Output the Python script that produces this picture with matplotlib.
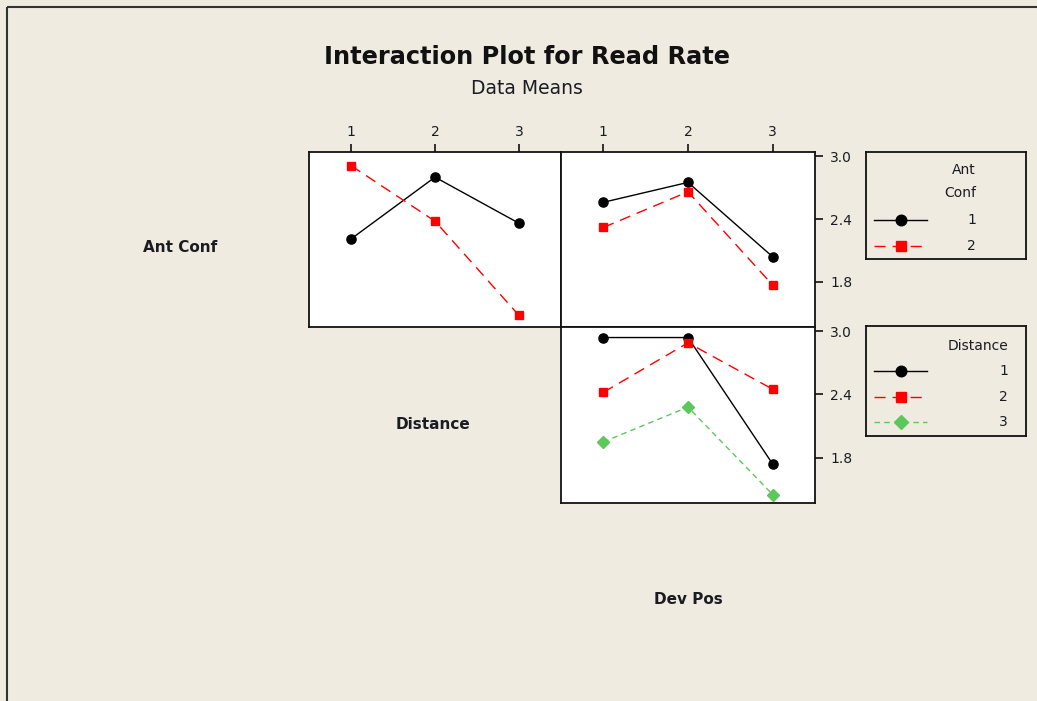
import matplotlib
matplotlib.use("Agg")
import matplotlib.pyplot as plt
from matplotlib.lines import Line2D

W, H = 1037, 701
BG = "#EFEBE1"
INK = "#1b1b22"

# Factor levels
levels = [1, 2, 3]
level_labels = ["1", "2", "3"]
ant_conf_labels = ["1", "2"]
distance_labels = ["1", "2", "3"]
y_ticks = [1.8, 2.4, 3.0]
y_limits = (1.37, 3.04)

# Mean Read Rate, Ant Conf (lines) across Distance (x)
antconf1_by_distance = [2.21, 2.80, 2.36]
antconf2_by_distance = [2.91, 2.38, 1.48]

# Mean Read Rate, Ant Conf (lines) across Dev Pos (x)
antconf1_by_devpos = [2.56, 2.75, 2.04]
antconf2_by_devpos = [2.32, 2.66, 1.77]

# Mean Read Rate, Distance (lines) across Dev Pos (x)
distance1_by_devpos = [2.94, 2.94, 1.74]
distance2_by_devpos = [2.42, 2.89, 2.45]
distance3_by_devpos = [1.95, 2.28, 1.45]

styles = [
    dict(color="black", linestyle="-", marker="o", markersize=6.6),
    dict(color="#FF0000", linestyle=(0, (8, 5)), marker="s", markersize=6.4),
    dict(color="#5CC85C", linestyle=(0, (4, 3)), marker="D", markersize=6.0),
]

fig = plt.figure(figsize=(W / 100, H / 100), dpi=100, facecolor=BG)


def px_axes(x0, y0, x1, y1):
    return fig.add_axes([x0 / W, 1 - y1 / H, (x1 - x0) / W, (y1 - y0) / H])


def style_panel(ax, top_ticks, right_ticks):
    ax.set_facecolor("white")
    ax.set_xlim(0.5, 3.5)
    ax.set_ylim(*y_limits)
    for s in ax.spines.values():
        s.set_linewidth(1.3)
        s.set_color("#111111")
    ax.tick_params(axis="both", direction="out", length=6, width=1.2,
                   labelsize=10, labelcolor=INK, color="#111111", pad=3)
    if top_ticks:
        ax.set_xticks(levels)
        ax.set_xticklabels(level_labels)
        ax.tick_params(axis="x", top=True, bottom=False, labeltop=True, labelbottom=False)
    else:
        ax.set_xticks([])
    if right_ticks:
        ax.set_yticks(y_ticks)
        ax.set_yticklabels([f"{v:.1f}" for v in y_ticks])
        ax.tick_params(axis="y", right=True, left=False, labelright=True, labelleft=False, pad=5)
    else:
        ax.set_yticks([])


def draw_series(ax, series):
    for vals, st in zip(series, styles):
        ax.plot(levels, vals, linewidth=1.0, clip_on=False, zorder=3, **st)


# Panels of the interaction matrix
ax1 = px_axes(309, 152, 561, 327)
style_panel(ax1, top_ticks=True, right_ticks=False)
draw_series(ax1, [antconf1_by_distance, antconf2_by_distance])

ax2 = px_axes(561, 152, 815, 327)
style_panel(ax2, top_ticks=True, right_ticks=True)
draw_series(ax2, [antconf1_by_devpos, antconf2_by_devpos])

ax3 = px_axes(561, 327, 815, 503)
style_panel(ax3, top_ticks=False, right_ticks=True)
draw_series(ax3, [distance1_by_devpos, distance2_by_devpos, distance3_by_devpos])


def draw_key(box, title_lines, title_ys, labels, row_ys, text_right):
    x0, y0, x1, y1 = box
    ax = px_axes(x0, y0, x1, y1)
    ax.set_xlim(0, x1 - x0)
    ax.set_ylim(y1 - y0, 0)
    ax.set_xticks([])
    ax.set_yticks([])
    ax.set_facecolor(BG)
    for s in ax.spines.values():
        s.set_linewidth(1.3)
        s.set_color("#111111")
    for t, ty in zip(title_lines, title_ys):
        ax.text(text_right, ty, t, ha="right", va="center", fontsize=10, color=INK)
    for lab, ry, st in zip(labels, row_ys, styles):
        line_style = {k: v for k, v in st.items() if k not in ("marker", "markersize")}
        ax.add_line(Line2D([8, 61], [ry, ry], linewidth=1.0, **line_style))
        ax.add_line(Line2D([34.5], [ry], linestyle="none", color=st["color"],
                           marker=st["marker"], markersize=st["markersize"] + 1))
        ax.text(text_right, ry, lab, ha="right", va="center", fontsize=10, color=INK)


draw_key((866, 152, 1026, 259), ["Ant", "Conf"], [18, 41], ant_conf_labels, [68, 94], 110)
draw_key((866, 326, 1026, 436), ["Distance"], [20], distance_labels, [45, 71, 96], 142)

# Factor names along the diagonal
fig.text(180 / W, 1 - 247 / H, "Ant Conf", ha="center", va="center",
         fontsize=11, fontweight="bold", color=INK)
fig.text(433 / W, 1 - 424 / H, "Distance", ha="center", va="center",
         fontsize=11, fontweight="bold", color=INK)
fig.text(688 / W, 1 - 599 / H, "Dev Pos", ha="center", va="center",
         fontsize=11, fontweight="bold", color=INK)

# Titles
fig.text(527 / W, 1 - 57 / H, "Interaction Plot for Read Rate", ha="center", va="center",
         fontsize=17.3, fontweight="bold", color="#111111")
fig.text(527 / W, 1 - 88 / H, "Data Means", ha="center", va="center",
         fontsize=13.5, color=INK)

# Window frame lines on the top and left
fig.add_artist(Line2D([6.5 / W, 1], [1 - 6.5 / H, 1 - 6.5 / H], transform=fig.transFigure,
                      color="#333333", linewidth=1.5, solid_capstyle="butt"))
fig.add_artist(Line2D([6.5 / W, 6.5 / W], [0, 1 - 6.5 / H], transform=fig.transFigure,
                      color="#333333", linewidth=1.5, solid_capstyle="butt"))

fig.savefig("out.png", dpi=100, facecolor=BG)
